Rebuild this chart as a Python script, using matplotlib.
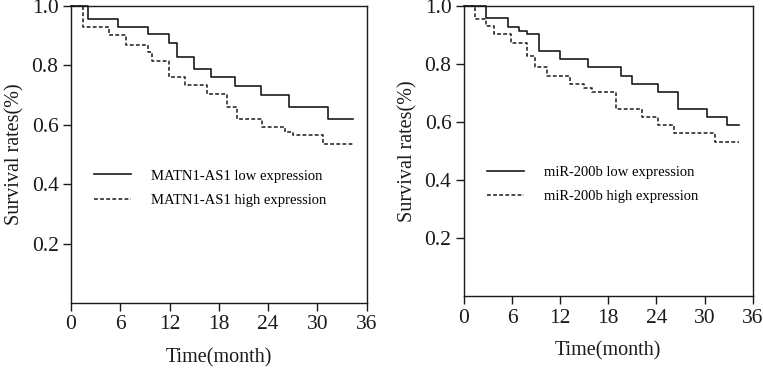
import matplotlib
matplotlib.use("Agg")
import matplotlib.pyplot as plt

# Data
x_ticks = [0, 6, 12, 18, 24, 30, 36]
y_ticks = [0.2, 0.4, 0.6, 0.8, 1.0]
y_tick_labels = ["0.2", "0.4", "0.6", "0.8", "1.0"]

left_low_t = [0, 2.1, 5.75, 9.33, 11.9, 12.86, 14.96, 17.0, 20.0, 23.1, 26.6, 31.3, 34.3]
left_low_s = [1.0, 0.956, 0.930, 0.905, 0.874, 0.829, 0.788, 0.760, 0.732, 0.701, 0.660, 0.620, 0.620]
left_high_t = [0, 1.5, 4.66, 6.69, 9.4, 9.8, 11.9, 13.87, 16.5, 19.0, 20.2, 23.2, 26.0, 27.0, 30.7, 34.3]
left_high_s = [1.0, 0.928, 0.903, 0.869, 0.845, 0.815, 0.760, 0.733, 0.703, 0.660, 0.620, 0.593, 0.577, 0.566, 0.535, 0.535]

right_low_t = [0, 2.7, 5.5, 6.86, 7.8, 9.4, 12.0, 15.5, 19.6, 21.0, 24.2, 26.7, 30.3, 32.8, 34.3]
right_low_s = [1.0, 0.958, 0.929, 0.915, 0.903, 0.845, 0.816, 0.788, 0.759, 0.730, 0.702, 0.646, 0.618, 0.590, 0.590]
right_high_t = [0, 1.37, 2.7, 3.74, 5.82, 7.8, 8.85, 10.4, 13.2, 15.0, 16.0, 19.0, 22.2, 24.2, 26.2, 31.3, 34.3]
right_high_s = [1.0, 0.955, 0.931, 0.902, 0.873, 0.828, 0.788, 0.759, 0.731, 0.716, 0.702, 0.646, 0.618, 0.591, 0.561, 0.532, 0.532]

left_labels = ["MATN1-AS1 low expression", "MATN1-AS1 high expression"]
right_labels = ["miR-200b low expression", "miR-200b high expression"]
x_label = "Time(month)"
y_label = "Survival rates(%)"

plt.rcParams['font.family'] = ['Liberation Serif', 'DejaVu Serif']
col = "#1a1a1a"

fig = plt.figure(figsize=(7.63, 3.69), dpi=100)
axL = fig.add_axes([0.0931, 0.1789, 0.3875, 0.8049])
axR = fig.add_axes([0.6081, 0.1978, 0.3784, 0.7859])


def style(ax, low_t, low_s, high_t, high_s, labels, leg_anchor):
    ax.step(low_t, low_s, where='post', color=col, lw=1.2, label=labels[0], clip_on=False)
    ax.step(high_t, high_s, where='post', color=col, lw=1.1, linestyle=(0, (2.5, 1.5)),
            label=labels[1], clip_on=False)
    ax.set_xlim(0, 36)
    ax.set_ylim(0, 1.0)
    ax.set_xticks(x_ticks)
    ax.set_xticklabels([str(v) for v in x_ticks])
    ax.set_yticks(y_ticks)
    ax.set_yticklabels(y_tick_labels)
    for s in ax.spines.values():
        s.set_linewidth(1.0)
        s.set_color(col)
    ax.tick_params(direction='out', length=6, width=1.0, labelsize=15.5, colors=col, pad=3)
    ax.set_xlabel(x_label, fontsize=14.5, labelpad=10, color=col)
    ax.set_ylabel(y_label, fontsize=14.5, labelpad=5, color=col)
    ax.legend(loc='center left', bbox_to_anchor=leg_anchor, frameon=False, fontsize=10.5,
              handlelength=2.5, handletextpad=1.4, labelspacing=0.75,
              borderpad=0, borderaxespad=0)


style(axL, left_low_t, left_low_s, left_high_t, left_high_s, left_labels, (0.079, 0.387))
style(axR, right_low_t, right_low_s, right_high_t, right_high_s, right_labels, (0.081, 0.386))

fig.savefig("out.png", dpi=100)
